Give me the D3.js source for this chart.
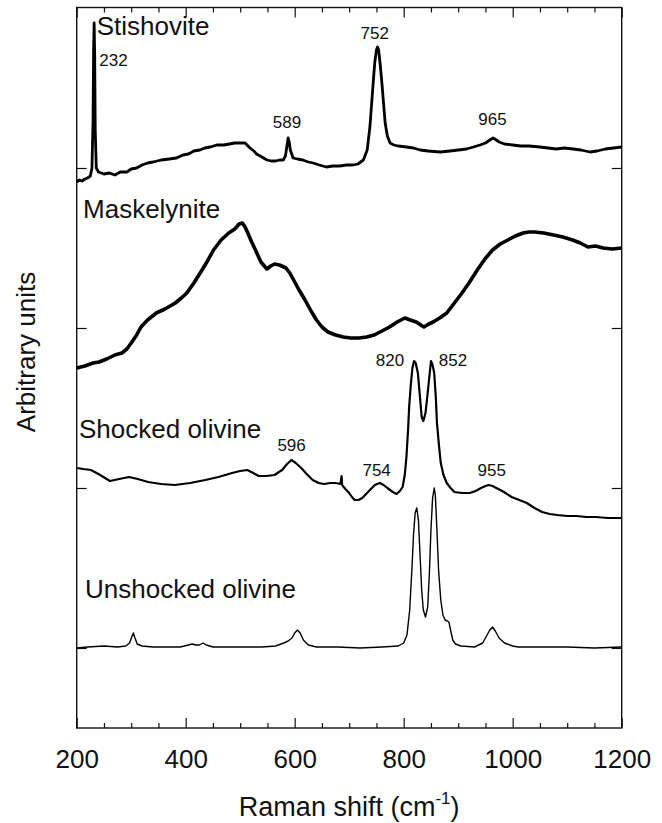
<!DOCTYPE html>
<html><head><meta charset="utf-8">
<script src="https://cdn.jsdelivr.net/npm/d3@7"></script>
<style>
html,body{margin:0;padding:0;background:#fff;}
svg{display:block;}
text{font-family:"Liberation Sans",Arial,Helvetica,sans-serif;fill:#111;}
</style></head>
<body>
<svg id="chart" width="662" height="823"></svg>
<script>
// ---- data (Raman shift in cm-1, intensity in arbitrary units, offset stacked) ----
const xMajorTicks = [200, 400, 600, 800, 1000, 1200];
const xMinorTicks = [250, 300, 350, 450, 500, 550, 650, 700, 750, 850, 900, 950, 1050, 1100, 1150];
const yTicks = [0, 160, 320, 480];

const stishovite = [[200,466],[205,468],[210,467],[215,469],[220,470],[225,472],[228,480],[230,528],[231,598],[232,625],[233,593],[234,518],[236,480],[240,476],[250,474],[260,475],[270,473],[280,476],[292,476],[300,479],[310,480],[320,483],[330,485],[340,486],[355,488],[370,489],[383,490],[395,493],[405,494],[415,497],[426,498],[435,500],[445,501],[457,503],[470,503],[480,504],[490,505],[500,505],[509,505],[518,500],[525,497],[530,494],[540,491],[549,488],[557,487],[565,487],[572,488],[579,488],[583,492],[586,503],[588,510],[590,506],[592,498],[597,490],[605,489],[615,488],[625,486],[634,485],[645,483],[658,481],[670,482],[683,482],[695,483],[707,483],[716,484],[726,488],[733,498],[738,521],[741,543],[744,565],[747,586],[750,598],[752,601],[754,598],[757,583],[760,565],[763,545],[766,525],[770,512],[775,505],[782,503],[790,502],[805,501],[818,500],[830,498],[845,497],[867,496],[885,497],[900,498],[915,499],[928,501],[940,503],[950,505],[958,508],[964,510],[970,508],[975,506],[985,504],[1000,503],[1015,502],[1030,502],[1050,501],[1065,500],[1080,499],[1095,500],[1111,499],[1125,498],[1142,496],[1155,497],[1170,499],[1185,500],[1200,501]];

const maskelynite = [[200,280],[215,282],[230,285],[241,286],[255,289],[270,293],[283,295],[292,299],[300,305],[310,313],[318,321],[330,328],[346,335],[362,339],[381,345],[392,350],[402,355],[415,365],[430,378],[441,388],[451,398],[465,408],[479,415],[490,419],[498,424],[504,425],[509,421],[514,415],[521,406],[528,398],[538,386],[549,379],[556,382],[563,384],[572,383],[584,380],[591,375],[598,368],[608,358],[619,348],[630,337],[640,328],[650,321],[661,316],[675,313],[689,311],[703,310],[718,310],[732,311],[746,313],[760,317],[774,321],[788,326],[802,330],[812,328],[823,326],[837,321],[846,324],[854,326],[866,330],[879,335],[893,345],[907,355],[921,366],[935,378],[949,389],[963,398],[977,404],[991,408],[1005,412],[1019,415],[1030,416],[1040,416],[1057,415],[1075,413],[1092,411],[1110,408],[1124,405],[1138,401],[1152,402],[1166,400],[1183,399],[1200,400]];

const shockedOlivine = [[201,180],[212,179],[226,178],[240,174],[261,167],[278,169],[296,171],[312,169],[331,166],[355,164],[380,163],[408,165],[436,168],[460,171],[485,175],[500,177],[513,178],[524,175],[534,172],[548,172],[563,173],[571,176],[577,178],[586,184],[594,188],[602,185],[612,180],[622,174],[633,168],[644,165],[654,164],[665,165],[675,165],[684,164],[686,172],[687,163],[693,159],[700,155],[705,151],[710,148],[717,148],[724,150],[731,154],[738,158],[747,163],[756,165],[763,163],[770,160],[780,156],[787,154],[793,157],[798,161],[802,173],[805,191],[808,218],[810,241],[813,263],[816,280],[819,287],[822,285],[826,275],[830,250],[833,231],[836,227],[840,235],[844,255],[847,271],[850,287],[853,283],[856,275],[859,250],[861,225],[865,201],[868,185],[873,173],[879,165],[886,160],[893,156],[907,155],[921,155],[932,157],[942,160],[950,162],[956,163],[963,162],[970,160],[984,156],[998,151],[1012,148],[1026,145],[1040,140],[1054,136],[1068,134],[1082,133],[1100,132],[1117,132],[1135,131],[1152,131],[1175,130],[1200,130]];

const unshockedOlivine = [[200,0],[220,1],[250,2],[275,1],[290,2],[297,5],[301,11],[304,15],[307,10],[311,4],[320,2],[340,1],[365,1],[390,1],[405,3],[412,4],[418,3],[425,3],[432,5],[438,3],[450,1],[480,1],[510,1],[540,1],[565,2],[580,5],[588,7],[595,10],[600,15],[605,18],[610,15],[616,8],[625,3],[640,1],[680,1],[720,0],[760,1],[790,2],[800,5],[806,13],[811,38],[815,78],[818,113],[821,135],[824,140],[827,128],[830,93],[833,58],[836,38],[840,31],[844,41],[847,73],[850,118],[853,150],[856,160],[858,153],[861,118],[864,78],[868,48],[872,33],[876,28],[880,27],[883,26],[886,18],[890,8],[895,4],[905,2],[930,1],[945,5],[952,12],[958,18],[963,21],[968,17],[975,10],[985,5],[1000,2],[1010,1],[1050,1],[1100,1],[1150,0],[1200,1]];

const seriesNames = ["Stishovite", "Maskelynite", "Shocked olivine", "Unshocked olivine"];
const peakTexts = ["232", "752", "589", "965", "820", "852", "596", "754", "955"];

// ---- chart ----
const svg = d3.select("#chart");
const L = 76.7, R = 621.7, T = 7.5, B = 728;
const x = d3.scaleLinear().domain([200, 1200]).range([L, R]);
const y = d3.scaleLinear().domain([-80, 640.5]).range([B, T]);

svg.append("rect").attr("width", 662).attr("height", 823).attr("fill", "#fff");

function styleAxis(g) {
  g.select(".domain").remove();
  g.selectAll(".tick line").attr("stroke", "#111").attr("stroke-width", 1.2);
}
// bottom
svg.append("g").attr("transform", `translate(0,${B})`)
  .call(d3.axisBottom(x).tickValues(xMinorTicks).tickSize(-5).tickFormat("")).call(styleAxis);
const gxb = svg.append("g").attr("transform", `translate(0,${B})`)
  .call(d3.axisBottom(x).tickValues(xMajorTicks).tickSize(-10).tickPadding(22).tickFormat(d3.format("d")))
  .call(styleAxis);
gxb.selectAll("text").attr("font-size", 26).attr("fill", "#111")
  .attr("font-family", '"Liberation Sans",Arial,sans-serif');
// top
svg.append("g").attr("transform", `translate(0,${T})`)
  .call(d3.axisTop(x).tickValues(xMinorTicks).tickSize(-5).tickFormat("")).call(styleAxis);
svg.append("g").attr("transform", `translate(0,${T})`)
  .call(d3.axisTop(x).tickValues(xMajorTicks).tickSize(-10).tickFormat("")).call(styleAxis);
// left / right
svg.append("g").attr("transform", `translate(${L},0)`)
  .call(d3.axisLeft(y).tickValues(yTicks).tickSize(-10).tickFormat("")).call(styleAxis);
svg.append("g").attr("transform", `translate(${R},0)`)
  .call(d3.axisRight(y).tickValues(yTicks).tickSize(-10).tickFormat("")).call(styleAxis);

// frame
svg.append("rect").attr("x", L).attr("y", T).attr("width", R - L).attr("height", B - T)
  .attr("fill", "none").attr("stroke", "#111").attr("stroke-width", 1.4);

// spectra
const line = d3.line().x(d => x(d[0])).y(d => y(d[1]));
const spectra = [
  {data: stishovite, w: 2.8},
  {data: maskelynite, w: 3.6},
  {data: shockedOlivine, w: 2.2},
  {data: unshockedOlivine, w: 1.4}
];
svg.append("g").selectAll("path").data(spectra).join("path")
  .attr("d", d => line(d.data)).attr("fill", "none").attr("stroke", "#000")
  .attr("stroke-width", d => d.w).attr("stroke-linejoin", "round");

// series labels
const nameAnchors = [[236.7, 613], [211.6, 430], [204.2, 210], [215.2, 50]];
svg.append("g").selectAll("text").data(seriesNames).join("text")
  .attr("x", (d, i) => x(nameAnchors[i][0])).attr("y", (d, i) => y(nameAnchors[i][1]))
  .attr("font-size", 26).text(d => d);

// peak labels
const peakAnchors = [[241.5, 582.3, "start"], [746.8, 608.7, "middle"], [585.9, 519.7, "middle"], [962.9, 523, "middle"],
  [774.9, 282, "middle"], [890.5, 282, "middle"], [594.3, 197, "middle"], [750.3, 172, "middle"], [961.5, 172, "middle"]];
svg.append("g").selectAll("text").data(peakTexts).join("text")
  .attr("x", (d, i) => x(peakAnchors[i][0])).attr("y", (d, i) => y(peakAnchors[i][1]))
  .attr("text-anchor", (d, i) => peakAnchors[i][2])
  .attr("font-size", 17).attr("fill", "#222").text(d => d);

// axis titles
const xt = svg.append("text").attr("x", (L + R) / 2).attr("y", 816).attr("text-anchor", "middle").attr("font-size", 27);
xt.append("tspan").text("Raman shift (cm");
xt.append("tspan").attr("font-size", 17).attr("dy", -12).text("-1");
xt.append("tspan").attr("dy", 12).text(")");

svg.append("text").attr("transform", "translate(35,352) rotate(-90)").attr("text-anchor", "middle")
  .attr("font-size", 26).text("Arbitrary units");
</script>
</body></html>
